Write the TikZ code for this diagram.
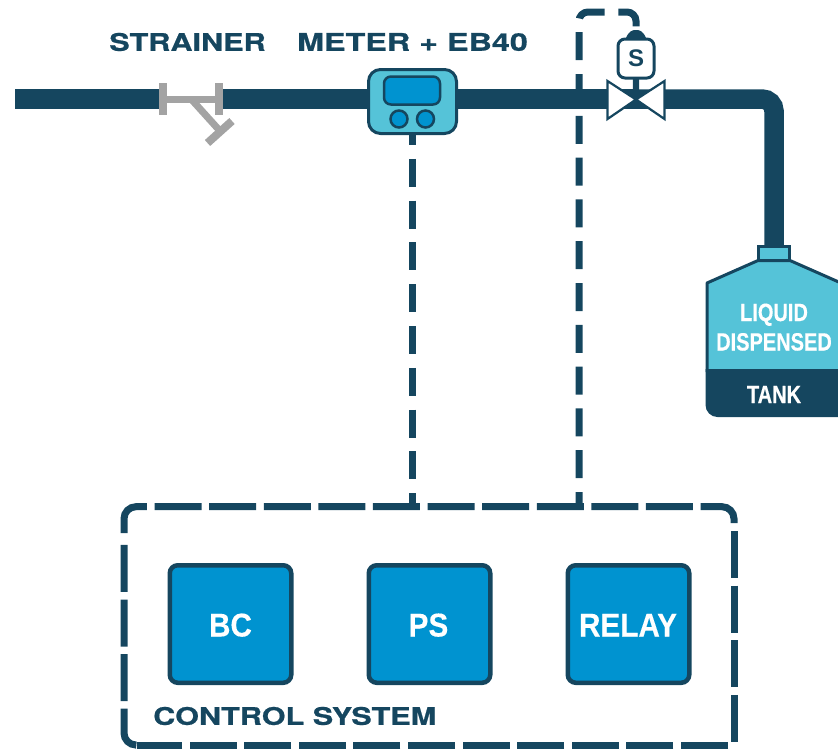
\documentclass[tikz,border=0pt]{standalone}
\usepackage{fontspec}
\usetikzlibrary{calc}
\setmainfont{Liberation Sans}
\newfontfamily\widefont[UprightFont=* Bold,FakeStretch=1.26,FakeBold=0.7]{TeX Gyre Heros}
\newfontfamily\widerfont[UprightFont=* Bold,FakeStretch=1.33,FakeBold=0.7]{TeX Gyre Heros}
\newfontfamily\narrowfont[UprightFont=* Bold,FakeStretch=0.80,FakeBold=0.4]{Liberation Sans}
\newfontfamily\boxfont[UprightFont=* Bold,FakeStretch=0.90,FakeBold=0.2]{Liberation Sans}
\definecolor{pipedark}{HTML}{15465F}
\definecolor{tealfill}{HTML}{55C3D8}
\definecolor{bluefill}{HTML}{0093D0}
\definecolor{steelgray}{HTML}{A3A3A3}
\tikzset{
  pipe/.style={draw=pipedark,line width=19.5pt,line cap=butt},
  wire/.style={draw=pipedark,line width=7pt,dash pattern=on 28pt off 13.8pt},
  outline/.style={draw=pipedark,line width=7pt,dash pattern=on 47pt off 7.6pt,rounded corners=12pt},
  strainerpart/.style={draw=steelgray,line width=7pt},
  widelabel/.style={text=pipedark,font=\widefont\fontsize{24.3}{25}\selectfont,inner sep=0pt},
  unitbox/.style={draw=pipedark,fill=bluefill,line width=4.5pt,rounded corners=8pt,minimum width=121.5pt,minimum height=117.5pt,inner sep=0pt},
  unittext/.style={text=white,font=\boxfont\fontsize{33}{33}\selectfont,inner sep=0pt,anchor=base},
  tanktext/.style={text=white,font=\narrowfont\fontsize{25}{25}\selectfont,inner sep=0pt,anchor=base}
}
\begin{document}
\begin{tikzpicture}[x=1pt,y=-1pt]
\useasboundingbox (0,0) rectangle (838,748);
% pipework
\coordinate (pipestart) at (15,99);
\coordinate (strainerL) at (163,99);
\coordinate (strainerR) at (219,99);
\coordinate (valveC) at (636,99.5);
\coordinate (pipebend) at (774,99);
% units
\node[draw=pipedark,fill=tealfill,line width=3pt,rounded corners=12pt,minimum width=88pt,minimum height=64pt,inner sep=0pt] (meter) at (412.5,101.5) {};
\node[unitbox] (bc) at (230.5,624) {};
\node[unitbox] (ps) at (429.5,624) {};
\node[unitbox] (relay) at (628.5,624) {};
\node[unittext] (bctext) at (230.5,636.5) {BC};
\node[unittext] (pstext) at (428.5,636.5) {PS};
\node[unittext] (relaytext) at (628,636.5) {RELAY};
\node[minimum width=610pt,minimum height=238.3pt,inner sep=0pt,outer sep=0pt] (ctrl) at (429,625.85) {};
\node[draw=pipedark,fill=white,line width=3pt,rounded corners=7pt,minimum width=36pt,minimum height=39pt,inner sep=0pt,text=pipedark,font=\bfseries\fontsize{24}{24}\selectfont] (sol) at (636,58.5) {S};
% pipes
\draw[pipe] (pipestart) -- (strainerL);
\draw[pipe] (strainerR) -- (meter.west |- strainerR);
\draw[pipe] (meter.east |- strainerR) -- (valveC |- strainerR);
\draw[pipe,rounded corners=12pt] (valveC |- strainerR) -- (pipebend) -- (774,250);
% strainer
\draw[strainerpart,line width=8pt,line cap=butt] (163,83) -- (163,115);
\draw[strainerpart,line width=8pt,line cap=butt] (219,83) -- (219,115);
\draw[strainerpart,line cap=butt] (strainerL) -- (strainerR);
\draw[strainerpart,line cap=butt] (192,100) -- (220,131);
\draw[strainerpart,line width=8pt,line cap=butt] (207.5,143) -- (232,121);
% meter face
\node[draw=pipedark,fill=bluefill,line width=2.5pt,rounded corners=7pt,minimum width=56pt,minimum height=28pt,inner sep=0pt] (screen) at (412,90.5) {};
\node[draw=pipedark,fill=bluefill,line width=2.5pt,circle,minimum size=17pt,inner sep=0pt] (btnA) at (399,119) {};
\node[draw=pipedark,fill=bluefill,line width=2.5pt,circle,minimum size=17pt,inner sep=0pt] (btnB) at (425.5,119) {};
% connectors
\draw[wire,dash phase=18pt] (meter.south) -- (meter.south |- ctrl.north);
\coordinate (wirebase) at (579,506);
\coordinate (wiretopL) at (579,12);
\coordinate (wiretopR) at (636,12);
\draw[wire,dash phase=14pt,rounded corners=9pt] (wirebase) -- (wiretopL) -- (wiretopR) -- (sol.north);
% solenoid dome and valve
\fill[pipedark] (626,38) .. controls (629,31) and (632,30) .. (636,30) .. controls (640,30) and (643,31) .. (646,38) -- cycle;
\draw[draw=pipedark,fill=white,line width=2.2pt,line join=miter] (valveC) -- (607.5,81) -- (607.5,119) -- cycle;
\draw[draw=pipedark,fill=white,line width=2.2pt,line join=miter] (valveC) -- (664.5,81) -- (664.5,119) -- cycle;
\fill[pipedark] (632.8,79) -- (639.2,79) -- (639.2,94) -- (636,98) -- (632.8,94) -- cycle;
% tank
\draw[draw=pipedark,fill=tealfill,line width=3pt] (758.5,246.5) rectangle (789.5,261);
\path[fill=tealfill] (707,283) -- (758,260.5) -- (790,260.5) -- (841,283) -- (841,372) -- (707,372) -- cycle;
\fill[pipedark] (705.5,369) -- (843,369) -- (843,405) -- (843,417) -- (717.5,417) arc[start angle=90,end angle=180,radius=12] -- cycle;
\draw[draw=pipedark,line width=3pt,line join=round] (707,372) -- (707,283) -- (758,260.5) -- (790,260.5) -- (841,283) -- (841,372);
\node[tanktext] (liquid) at (774,321) {LIQUID};
\node[tanktext] (dispensed) at (774,350.5) {DISPENSED};
\node[tanktext] (tank) at (774,403) {TANK};
% control system outline
\draw[outline,dash phase=3pt] (124,533) -- (ctrl.north west) -- (ctrl.north east) -- (734,523);
\draw[outline] (734,531) -- (734,742);
\draw[outline] (728,745) -- (137,745);
\draw[outline,dash phase=3pt] (135,745) -- (124,745) -- (124,540);
% labels
\node[widelabel] (lblstrainer) at (187.5,42) {STRAINER};
\node[widelabel,font=\widerfont\fontsize{24.3}{25}\selectfont] (lblmeter) at (412.5,42) {METER + EB40};
\node[widelabel,anchor=west] (lblctrl) at (153,716) {CONTROL SYSTEM};
\end{tikzpicture}
\end{document}
